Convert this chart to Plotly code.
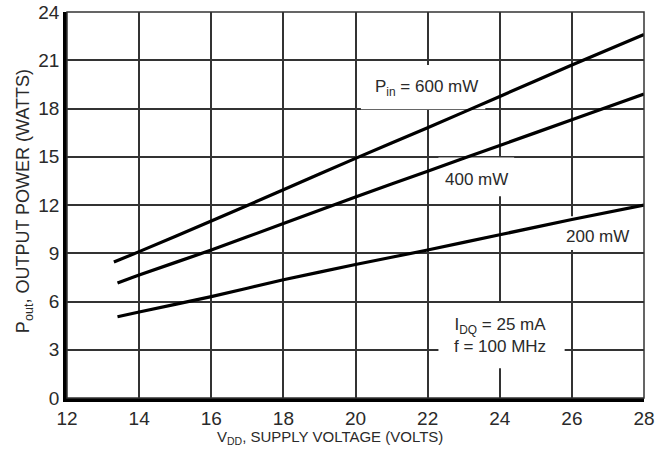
import plotly.graph_objects as go

vdd_600 = [13.3, 14, 16, 18, 20, 22, 24, 26, 28]
pout_600 = [8.45, 9.1, 11.0, 12.95, 14.9, 16.8, 18.75, 20.7, 22.6]
vdd_400 = [13.4, 14, 16, 18, 20, 22, 24, 26, 28]
pout_400 = [7.15, 7.65, 9.2, 10.85, 12.5, 14.1, 15.7, 17.3, 18.9]
vdd_200 = [13.4, 14, 16, 18, 20, 22, 24, 26, 28]
pout_200 = [5.05, 5.35, 6.3, 7.35, 8.3, 9.2, 10.15, 11.1, 12.0]

x_ticks = [12, 14, 16, 18, 20, 22, 24, 26, 28]
y_ticks = [0, 3, 6, 9, 12, 15, 18, 21, 24]

FONT = "Liberation Sans Narrow, Arial Narrow, Liberation Sans, Arial, sans-serif"
TXT = "#2a2a2a"

fig = go.Figure()
for xs, ys in [(vdd_600, pout_600), (vdd_400, pout_400), (vdd_200, pout_200)]:
    fig.add_trace(go.Scatter(x=xs, y=ys, mode="lines",
                             line=dict(color="black", width=3.2, shape="spline", smoothing=0.6),
                             showlegend=False, hoverinfo="skip"))

# white patches that interrupt the grid behind the labels (drawn under the curves)
for x0, x1, y0, y1 in [(20.15, 23.6, 17.95, 20.7), (22.3, 24.4, 12.55, 14.95),
                       (25.5, 27.9, 9.2, 11.3), (22.3, 25.8, 1.85, 5.9)]:
    fig.add_shape(type="rect", x0=x0, x1=x1, y0=y0, y1=y1, layer="between",
                  fillcolor="white", line=dict(width=0))

ann_font = dict(family=FONT, size=17, color=TXT)
fig.add_annotation(x=21.98, y=19.3, text="P<sub>in</sub> = 600 mW", showarrow=False, font=ann_font)
fig.add_annotation(x=23.35, y=13.6, text="400 mW", showarrow=False, font=ann_font)
fig.add_annotation(x=26.7, y=10.05, text="200 mW", showarrow=False, font=ann_font)
fig.add_annotation(x=24.0, y=3.9, text="I<sub>DQ</sub> = 25 mA<br>f = 100 MHz", showarrow=False,
                   font=ann_font, align="center")

# axis titles
fig.add_annotation(xref="paper", yref="paper", x=0.455, y=0, yshift=-39, yanchor="middle",
                   text="V<sub>DD</sub>, SUPPLY VOLTAGE (VOLTS)", showarrow=False,
                   font=dict(family=FONT, size=15, color=TXT))
fig.add_annotation(xref="paper", yref="paper", x=0, xshift=-43, y=0.51, xanchor="center",
                   yanchor="middle", textangle=-90,
                   text="P<sub>out</sub>, OUTPUT POWER (WATTS)", showarrow=False,
                   font=dict(family=FONT, size=18, color=TXT))

fig.add_shape(type="rect", xref="paper", yref="paper", x0=0, y0=0, x1=1, y1=1,
              line=dict(color="#333", width=1.5), layer="above")

fig.update_xaxes(range=[12, 28], tickvals=x_ticks, ticktext=[str(v) for v in x_ticks],
                 showgrid=True, gridcolor="#333", gridwidth=1.5, zeroline=False,
                 showline=True, linecolor="black", linewidth=3.5, ticks="",
                 ticklabeloverflow="allow",
                 tickfont=dict(family=FONT, size=19, color=TXT))
fig.update_yaxes(range=[0, 24], tickvals=y_ticks, ticktext=[str(v) for v in y_ticks],
                 showgrid=True, gridcolor="#333", gridwidth=1.5, zeroline=False,
                 showline=True, linecolor="black", linewidth=3.5, ticks="",
                 ticklabeloverflow="allow",
                 tickfont=dict(family=FONT, size=19, color=TXT))

fig.update_layout(width=668, height=460, margin=dict(l=67, r=24, t=12, b=62, autoexpand=False),
                  plot_bgcolor="white", paper_bgcolor="white")

fig.write_html("out.html", config={"displayModeBar": False},
               post_script="document.body.style.margin='0';")
